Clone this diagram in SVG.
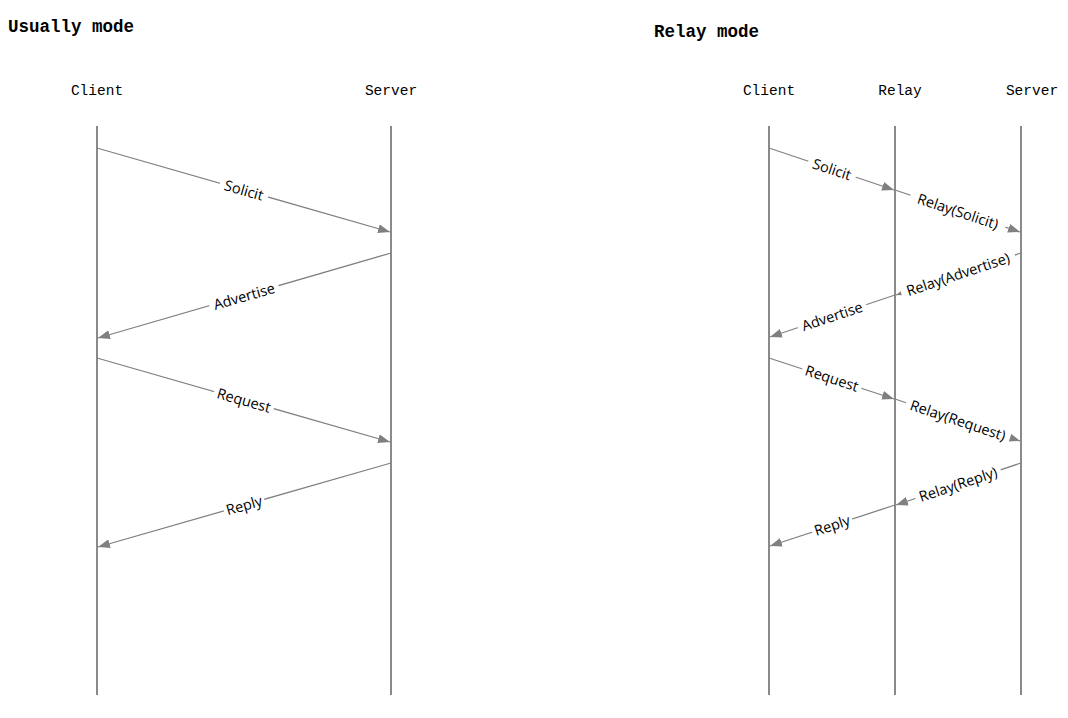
<svg xmlns="http://www.w3.org/2000/svg" width="1068" height="718" viewBox="0 0 1068 718">
<style>
.title{font-family:"Liberation Mono","DejaVu Sans Mono",monospace;font-size:17.5px;font-weight:bold;fill:#000}
.actor{font-family:"Liberation Mono","DejaVu Sans Mono",monospace;font-size:14.5px;fill:#000}
.life{stroke:#8a8a8a;stroke-width:2;fill:none}
.msg{stroke:#808080;stroke-width:1.3;fill:none;marker-end:url(#arr)}
.lbl{font-family:"Open Sans","Noto Sans",sans-serif;font-size:14.5px;fill:#000;text-anchor:middle;dominant-baseline:central}
.bg{fill:#fff}
</style>
<defs>
<marker id="arr" markerUnits="userSpaceOnUse" markerWidth="13" markerHeight="9" refX="12" refY="4.5" orient="auto">
<path d="M0,0 L12,4.5 L0,9 z" fill="#808080"/>
</marker>
</defs>
<rect width="1068" height="718" fill="#fff"/>

<text class="title" x="8" y="32">Usually mode</text>
<text class="title" x="654" y="37">Relay mode</text>

<g id="left-client"><text class="actor" x="97" y="95" text-anchor="middle">Client</text><line class="life" x1="97" y1="126" x2="97" y2="695"/></g>
<g id="left-server"><text class="actor" x="391" y="95" text-anchor="middle">Server</text><line class="life" x1="391" y1="126" x2="391" y2="695"/></g>

<g id="right-client"><text class="actor" x="769" y="95" text-anchor="middle">Client</text><line class="life" x1="769" y1="126" x2="769" y2="695"/></g>
<g id="right-relay"><text class="actor" x="900" y="95" text-anchor="middle">Relay</text><line class="life" x1="895" y1="126" x2="895" y2="695"/></g>
<g id="right-server"><text class="actor" x="1032" y="95" text-anchor="middle">Server</text><line class="life" x1="1021" y1="126" x2="1021" y2="695"/></g>

<g id="connectors">
<line class="msg" x1="97" y1="148" x2="390" y2="232"/>
<line class="msg" x1="391" y1="253" x2="98" y2="338"/>
<line class="msg" x1="97" y1="358" x2="390" y2="442"/>
<line class="msg" x1="391" y1="463" x2="98" y2="547"/>

<line class="msg" x1="769" y1="148" x2="894" y2="190"/>
<line class="msg" x1="895" y1="190" x2="1020" y2="232"/>
<line class="msg" x1="1021" y1="253" x2="896" y2="295"/>
<line class="msg" x1="895" y1="295" x2="770" y2="337"/>
<line class="msg" x1="769" y1="358" x2="894" y2="399"/>
<line class="msg" x1="895" y1="399" x2="1020" y2="441"/>
<line class="msg" x1="1021" y1="463" x2="896" y2="505"/>
<line class="msg" x1="895" y1="505" x2="770" y2="546"/>

<g transform="translate(244,190) rotate(15.96)"><rect class="bg" x="-25" y="-6" width="50" height="12"/><text class="lbl">Solicit</text></g>
<g transform="translate(244,296) rotate(-16.1)"><rect class="bg" x="-36" y="-6" width="72" height="12"/><text class="lbl">Advertise</text></g>
<g transform="translate(244,400) rotate(15.96)"><rect class="bg" x="-31" y="-6" width="62" height="12"/><text class="lbl">Request</text></g>
<g transform="translate(244,505) rotate(-16.0)"><rect class="bg" x="-21" y="-6" width="42" height="12"/><text class="lbl">Reply</text></g>

<g transform="translate(832,169) rotate(18.43)"><rect class="bg" x="-25" y="-6" width="50" height="12"/><text class="lbl">Solicit</text></g>
<g transform="translate(958,211) rotate(18.43)"><rect class="bg" x="-50" y="-6" width="100" height="12"/><text class="lbl">Relay(Solicit)</text></g>
<g transform="translate(958,274) rotate(-18.43)"><rect class="bg" x="-60" y="-6" width="120" height="12"/><text class="lbl">Relay(Advertise)</text></g>
<g transform="translate(832,316) rotate(-18.43)"><rect class="bg" x="-36" y="-6" width="72" height="12"/><text class="lbl">Advertise</text></g>
<g transform="translate(832,378) rotate(18.1)"><rect class="bg" x="-31" y="-6" width="62" height="12"/><text class="lbl">Request</text></g>
<g transform="translate(958,420) rotate(18.43)"><rect class="bg" x="-55" y="-6" width="110" height="12"/><text class="lbl">Relay(Request)</text></g>
<g transform="translate(958,484) rotate(-18.43)"><rect class="bg" x="-45" y="-6" width="90" height="12"/><text class="lbl">Relay(Reply)</text></g>
<g transform="translate(832,525) rotate(-18.1)"><rect class="bg" x="-21" y="-6" width="42" height="12"/><text class="lbl">Reply</text></g>
</g>
</svg>
